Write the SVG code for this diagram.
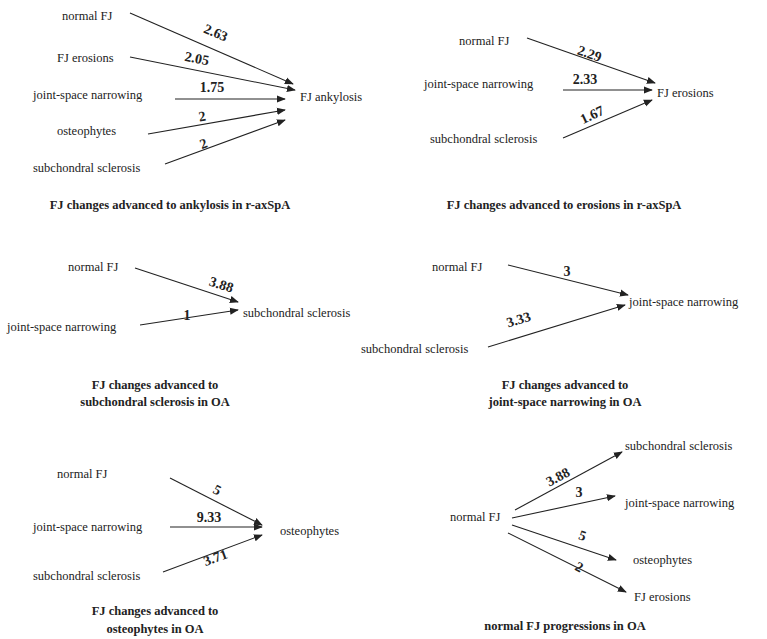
<svg xmlns="http://www.w3.org/2000/svg" width="767" height="639" viewBox="0 0 767 639" font-family="'Liberation Serif', 'DejaVu Serif', serif">
<style>
text{font-family:'Liberation Serif','DejaVu Serif',serif;font-size:12.5px;fill:#222}
.w{font-weight:bold;font-size:14px;text-anchor:middle}
.t{font-weight:bold;font-size:12.5px;text-anchor:middle}
line{stroke:#222;stroke-width:1.1;marker-end:url(#a)}
</style>
<defs><marker id="a" viewBox="0 0 10 10" refX="9" refY="5" markerWidth="9" markerHeight="9" markerUnits="userSpaceOnUse" orient="auto"><path d="M0,1L10,5L0,9z" fill="#222"/></marker></defs>
<rect width="767" height="639" fill="#fff"/>
<g id="nodes">
<g id="p1"><text x="62" y="20">normal FJ</text><text x="57" y="62">FJ erosions</text><text x="33" y="99">joint-space narrowing</text><text x="57" y="135">osteophytes</text><text x="33" y="172">subchondral sclerosis</text><text x="300" y="101">FJ ankylosis</text><text class="t" x="170" y="209">FJ changes advanced to ankylosis in r-axSpA</text></g>
<g id="p2"><text x="459" y="45">normal FJ</text><text x="424" y="88">joint-space narrowing</text><text x="430" y="143">subchondral sclerosis</text><text x="657" y="97">FJ erosions</text><text class="t" x="564" y="209">FJ changes advanced to erosions in r-axSpA</text></g>
<g id="p3"><text x="68" y="271">normal FJ</text><text x="7" y="331">joint-space narrowing</text><text x="243" y="317">subchondral sclerosis</text><text class="t" x="155" y="389">FJ changes advanced to</text><text class="t" x="155" y="406">subchondral sclerosis in OA</text></g>
<g id="p4"><text x="432" y="271">normal FJ</text><text x="361" y="353">subchondral sclerosis</text><text x="629" y="306">joint-space narrowing</text><text class="t" x="565" y="389">FJ changes advanced to</text><text class="t" x="565" y="406">joint-space narrowing in OA</text></g>
<g id="p5"><text x="57" y="478">normal FJ</text><text x="33" y="531">joint-space narrowing</text><text x="33" y="580">subchondral sclerosis</text><text x="280" y="535">osteophytes</text><text class="t" x="155" y="615">FJ changes advanced to</text><text class="t" x="155" y="633">osteophytes in OA</text></g>
<g id="p6"><text x="450" y="521">normal FJ</text><text x="625" y="450">subchondral sclerosis</text><text x="625" y="507">joint-space narrowing</text><text x="633" y="564">osteophytes</text><text x="634" y="601">FJ erosions</text><text class="t" x="565" y="630">normal FJ progressions in OA</text></g>
</g>
<g id="connectors">
<line x1="130" y1="13" x2="293" y2="84"/><line x1="130" y1="57" x2="295" y2="90"/><line x1="175" y1="99" x2="285" y2="99"/><line x1="148" y1="134" x2="285" y2="110"/><line x1="165" y1="164" x2="285" y2="120"/>
<line x1="527" y1="38" x2="655" y2="83"/><line x1="563" y1="90" x2="652" y2="90"/><line x1="563" y1="138" x2="652" y2="100"/>
<line x1="135" y1="268" x2="238" y2="302"/><line x1="140" y1="325" x2="238" y2="310"/>
<line x1="508" y1="265" x2="628" y2="295"/><line x1="488" y1="347" x2="625" y2="305"/>
<line x1="170" y1="478" x2="262" y2="525"/><line x1="170" y1="527" x2="262" y2="527"/><line x1="163" y1="572" x2="262" y2="535"/>
<line x1="515" y1="510" x2="622" y2="452"/><line x1="512" y1="518" x2="615" y2="496"/><line x1="512" y1="525" x2="616" y2="560"/><line x1="508" y1="533" x2="626" y2="592"/>
<g id="labels">
<text class="w" transform="translate(214,37) rotate(23)">2.63</text><text class="w" transform="translate(196,63) rotate(11)">2.05</text><text class="w" x="212" y="92">1.75</text><text class="w" transform="translate(203,121) rotate(-10)">2</text><text class="w" transform="translate(205,148) rotate(-20)">2</text>
<text class="w" transform="translate(588,58) rotate(19)">2.29</text><text class="w" x="585" y="84">2.33</text><text class="w" transform="translate(594,119) rotate(-25)">1.67</text>
<text class="w" transform="translate(220,289) rotate(18)">3.88</text><text class="w" x="187" y="320">1</text>
<text class="w" x="567" y="276">3</text><text class="w" transform="translate(520,324) rotate(-17)">3.33</text>
<text class="w" transform="translate(215,494) rotate(27)">5</text><text class="w" x="209" y="522">9.33</text><text class="w" transform="translate(217,562) rotate(-20)">3.71</text>
<text class="w" transform="translate(560,481) rotate(-28)">3.88</text><text class="w" x="579" y="497">3</text><text class="w" transform="translate(581,540) rotate(18)">5</text><text class="w" transform="translate(577,571) rotate(27)">2</text>
</g>
</g>
</svg>
